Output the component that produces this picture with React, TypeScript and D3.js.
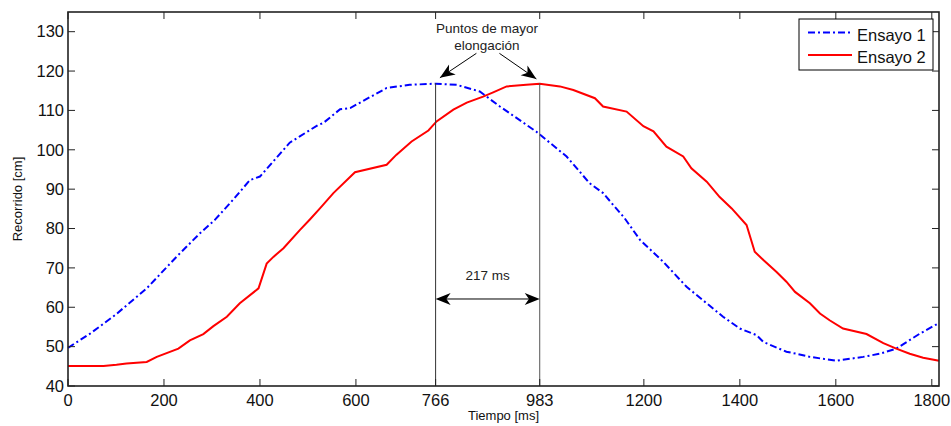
import React from "react";
import * as d3 from "d3";

const ensayo1Time = [0, 46, 98, 164, 226, 275, 306, 344, 379, 400, 462, 483, 521, 532, 567, 588, 664, 712, 766, 810, 858, 900, 976, 1039, 1087, 1115, 1160, 1192, 1240, 1289, 1331, 1365, 1400, 1435, 1449, 1497, 1518, 1546, 1601, 1657, 1692, 1726, 1775, 1815];
const ensayo1Value = [49.7, 53.3, 58.0, 64.8, 72.8, 78.8, 82.2, 87.3, 92.3, 93.2, 101.8, 103.4, 106.3, 106.8, 110.3, 110.6, 115.7, 116.5, 116.8, 116.5, 114.8, 111.0, 104.6, 98.3, 91.5, 89.0, 82.6, 77.1, 71.6, 65.2, 61.0, 57.6, 54.6, 52.9, 51.2, 48.7, 48.2, 47.4, 46.4, 47.4, 48.2, 49.5, 53.3, 56.0];

const ensayo2Time = [0, 74, 101, 122, 164, 185, 230, 254, 282, 303, 331, 358, 397, 414, 428, 449, 483, 504, 525, 553, 598, 664, 684, 716, 751, 768, 803, 831, 865, 886, 914, 955, 983, 1025, 1053, 1098, 1115, 1164, 1199, 1220, 1247, 1282, 1299, 1331, 1358, 1383, 1414, 1431, 1449, 1476, 1497, 1515, 1546, 1567, 1587, 1615, 1664, 1699, 1726, 1754, 1782, 1815];
const ensayo2Value = [45.1, 45.1, 45.4, 45.7, 46.1, 47.4, 49.5, 51.6, 53.2, 55.2, 57.6, 61.0, 64.8, 71.1, 72.8, 75.0, 79.6, 82.3, 85.1, 89.0, 94.3, 96.2, 98.7, 102.1, 104.9, 107.2, 110.2, 112.0, 113.5, 114.6, 116.1, 116.5, 116.8, 116.1, 115.2, 113.1, 111.0, 109.7, 106.0, 104.7, 100.8, 98.3, 95.3, 91.9, 88.0, 85.1, 80.9, 74.1, 72.0, 69.0, 66.5, 63.9, 61.0, 58.4, 56.7, 54.6, 53.2, 50.9, 49.5, 48.2, 47.2, 46.4];

const xTicks = [0, 200, 400, 600, 766, 983, 1200, 1400, 1600, 1800];
const yTicks = [40, 50, 60, 70, 80, 90, 100, 110, 120, 130];
const seriesNames = ["Ensayo 1", "Ensayo 2"];
const peakTimes = [766, 983];
const peakValue = 116.9;
const gapLabel = "217 ms";
const gapValue = 62.1;
const annotationLines = ["Puntos de mayor", "elongación"];
const xLabel = "Tiempo [ms]";
const yLabel = "Recorrido [cm]";

const W = 951;
const H = 426;
const L = 68, T = 12, R = 939, B = 386;
const FONT = "'Liberation Sans', Arial, sans-serif";

function arrowHead(x: number, y: number, fromX: number, fromY: number, len = 15, half = 6) {
  const ang = Math.atan2(y - fromY, x - fromX);
  const cos = Math.cos(ang), sin = Math.sin(ang);
  const p = (a: number, b: number) => [x + a * cos - b * sin, y + a * sin + b * cos];
  const b1 = p(-len, -half);
  const back = p(-len * 0.72, 0);
  const b2 = p(-len, half);
  return `M${x},${y}L${b1[0]},${b1[1]}L${back[0]},${back[1]}L${b2[0]},${b2[1]}Z`;
}

export default function App() {
  const x = d3.scaleLinear().domain([0, 1815]).range([L, R]);
  const y = d3.scaleLinear().domain([40, 135]).range([B, T]);

  const d1 = ensayo1Time.map((t, i) => [t, ensayo1Value[i]] as [number, number]);
  const d2 = ensayo2Time.map((t, i) => [t, ensayo2Value[i]] as [number, number]);
  const line = d3.line<[number, number]>().x((d) => x(d[0])).y((d) => y(d[1]));

  const tickLen = 7;

  const a1s = [x(851), y(124.5)], a1e = [x(775), y(118.3)];
  const a2s = [x(899), y(124.5)], a2e = [x(976), y(118.0)];
  const midX = x((peakTimes[0] + peakTimes[1]) / 2);

  return (
    <svg width={W} height={H} style={{ position: "fixed", left: 0, top: 0, background: "#fff" }} fontFamily={FONT}>
      <rect x={0} y={0} width={W} height={H} fill="#fff" />
      <path d={line(d1) || ""} fill="none" stroke="#0000ff" strokeWidth={2} strokeDasharray="7,3,2,3" />
      <path d={line(d2) || ""} fill="none" stroke="#ff0000" strokeWidth={2} />

      {peakTimes.map((t, i) => (
        <line key={i} x1={x(t)} x2={x(t)} y1={y(peakValue)} y2={B} stroke={i === 0 ? "#333" : "#555"} strokeWidth={1} />
      ))}

      <line x1={x(peakTimes[0]) + 4} x2={x(peakTimes[1]) - 4} y1={y(gapValue)} y2={y(gapValue)} stroke="#000" strokeWidth={1} />
      <path d={arrowHead(x(peakTimes[0]), y(gapValue), x(peakTimes[1]), y(gapValue))} fill="#000" />
      <path d={arrowHead(x(peakTimes[1]), y(gapValue), x(peakTimes[0]), y(gapValue))} fill="#000" />
      <text x={midX} y={280} textAnchor="middle" fontSize={13.5} fill="#222">{gapLabel}</text>

      <text x={x(873)} y={33} textAnchor="middle" fontSize={13.5} fill="#222">{annotationLines[0]}</text>
      <text x={x(873)} y={50} textAnchor="middle" fontSize={13.5} fill="#222">{annotationLines[1]}</text>
      <line x1={a1s[0]} y1={a1s[1]} x2={a1e[0]} y2={a1e[1]} stroke="#000" strokeWidth={1} />
      <path d={arrowHead(a1e[0], a1e[1], a1s[0], a1s[1])} fill="#000" />
      <line x1={a2s[0]} y1={a2s[1]} x2={a2e[0]} y2={a2e[1]} stroke="#000" strokeWidth={1} />
      <path d={arrowHead(a2e[0], a2e[1], a2s[0], a2s[1])} fill="#000" />

      <rect x={L} y={T} width={R - L} height={B - T} fill="none" stroke="#222" strokeWidth={1.6} />
      {xTicks.map((t) => (
        <g key={"x" + t}>
          <line x1={x(t)} x2={x(t)} y1={B} y2={B - tickLen} stroke="#222" strokeWidth={1} />
          <line x1={x(t)} x2={x(t)} y1={T} y2={T + tickLen} stroke="#222" strokeWidth={1} />
          <text x={x(t)} y={B + 20} textAnchor="middle" fontSize={16.5} fill="#111">{t}</text>
        </g>
      ))}
      {yTicks.map((t) => (
        <g key={"y" + t}>
          <line x1={L} x2={L + tickLen} y1={y(t)} y2={y(t)} stroke="#222" strokeWidth={1} />
          <line x1={R} x2={R - tickLen} y1={y(t)} y2={y(t)} stroke="#222" strokeWidth={1} />
          <text x={L - 4} y={y(t)} dy="0.35em" textAnchor="end" fontSize={16.5} fill="#111">{t}</text>
        </g>
      ))}
      <text x={(L + R) / 2} y={420} textAnchor="middle" fontSize={13} fill="#111">{xLabel}</text>
      <text transform={`translate(22,${(T + B) / 2}) rotate(-90)`} textAnchor="middle" fontSize={13} fill="#111">{yLabel}</text>

      <rect x={799} y={19} width={134} height={51} fill="#fff" stroke="#000" strokeWidth={1} />
      <line x1={808} x2={852} y1={32.5} y2={32.5} stroke="#0000ff" strokeWidth={2} strokeDasharray="7,3,2,3" />
      <line x1={808} x2={852} y1={55} y2={55} stroke="#ff0000" strokeWidth={2} />
      <text x={857} y={40.5} fontSize={16.5} fill="#111">{seriesNames[0]}</text>
      <text x={857} y={63} fontSize={16.5} fill="#111">{seriesNames[1]}</text>
    </svg>
  );
}
